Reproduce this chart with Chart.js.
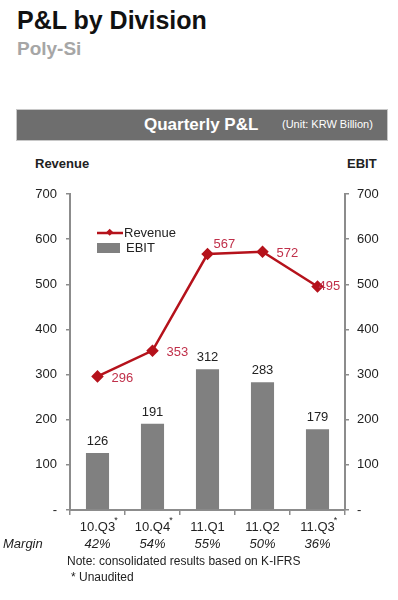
<!DOCTYPE html>
<html>
<head>
<meta charset="utf-8">
<script src="https://cdn.jsdelivr.net/npm/chart.js@4.4.0/dist/chart.umd.min.js"></script>
<style>
    body { margin: 0; background: #fff; font-family: "Liberation Sans", Arial, sans-serif; }
    #page { position: relative; width: 398px; height: 600px; overflow: hidden; }
    .abs { position: absolute; white-space: nowrap; }
    #title { left: 17px; top: 6px; font-size: 25px; font-weight: bold; color: #111; }
    #sub { left: 17px; top: 38px; font-size: 19px; font-weight: bold; color: #a6a6a6; }
    #bar { left: 16px; top: 109px; width: 372px; height: 32px; background: #6e6e6e; border: 1px solid #c8c8c8; box-sizing: border-box; }
    #barTitle { left: 144px; top: 115px; font-size: 17px; font-weight: bold; color: #fff; }
    #barUnit { left: 282px; top: 118px; font-size: 11px; color: #fff; }
    .axTitle { top: 156px; font-size: 13px; font-weight: bold; color: #222; }
    #chartBox { position: absolute; left: 0; top: 150px; width: 398px; height: 405px; }
    #legend { left: 97px; top: 225px; font-size: 13px; color: #222; }
    .lgRow { display: flex; align-items: center; height: 15px; }
    #note { left: 67px; top: 554px; font-size: 12px; color: #222; }
    #note2 { left: 71px; top: 570px; font-size: 12px; color: #222; }
</style>
</head>
<body>
<div id="page">
    <div class="abs" id="title">P&amp;L by Division</div>
    <div class="abs" id="sub">Poly-Si</div>
    <div class="abs" id="bar"></div>
    <div class="abs" id="barTitle">Quarterly P&amp;L</div>
    <div class="abs" id="barUnit">(Unit: KRW Billion)</div>
    <div class="abs axTitle" style="left:35px">Revenue</div>
    <div class="abs axTitle" style="left:347px">EBIT</div>
    <div id="chartBox"><canvas id="pl" width="398" height="405"></canvas></div>
    <div class="abs" id="legend"></div>
    <div class="abs" id="note">Note: consolidated results based on K-IFRS</div>
    <div class="abs" id="note2">* Unaudited</div>
</div>
<script>
// data
var categories = ["10.Q3", "10.Q4", "11.Q1", "11.Q2", "11.Q3"];
var unaudited = [true, true, false, false, true];
var margins = ["42%", "54%", "55%", "50%", "36%"];
var revenue = [296, 353, 567, 572, 495];
var ebit = [126, 191, 312, 283, 179];

var red = "#b5121b";
var redText = "#c0304a";
var grey = "#808080";
var axisGrey = "#8c8c8c";

// where each revenue label sits relative to its point
var revLabelPos = ["right", "right", "above", "right", "tight"];

var valueLabels = {
    id: "valueLabels",
    afterDatasetsDraw: function (chart) {
        var ctx = chart.ctx;
        ctx.save();
        ctx.font = "13px 'Liberation Sans', Arial";
        // EBIT on bars
        var bars = chart.getDatasetMeta(1);
        ctx.fillStyle = "#222";
        ctx.textAlign = "center";
        ctx.textBaseline = "bottom";
        bars.data.forEach(function (el, i) {
            ctx.fillText(ebit[i], el.x, el.y - 5);
        });
        // revenue next to points
        var line = chart.getDatasetMeta(0);
        ctx.fillStyle = redText;
        ctx.textAlign = "left";
        ctx.textBaseline = "middle";
        line.data.forEach(function (el, i) {
            var p = revLabelPos[i];
            if (p == "above") {
                ctx.fillText(revenue[i], el.x + 6, el.y - 10);
            } else if (p == "tight") {
                ctx.fillText(revenue[i], el.x + 1, el.y);
            } else {
                ctx.fillText(revenue[i], el.x + 14, el.y + 2);
            }
        });
        ctx.restore();
    },
    afterDraw: function (chart) {
        var ctx = chart.ctx;
        var x = chart.scales.x;
        ctx.save();
        // superscript asterisks for unaudited quarters
        ctx.font = "13px 'Liberation Sans', Arial";
        var wids = categories.map(function (c) { return ctx.measureText(c).width; });
        ctx.font = "9px 'Liberation Sans', Arial";
        ctx.fillStyle = "#222";
        ctx.textAlign = "left";
        ctx.textBaseline = "middle";
        categories.forEach(function (c, i) {
            if (unaudited[i]) {
                ctx.fillText("*", x.getPixelForValue(i) + wids[i] / 2 - 1, 371);
            }
        });
        // margin row
        ctx.font = "italic 13px 'Liberation Sans', Arial";
        ctx.textAlign = "center";
        margins.forEach(function (m, i) {
            ctx.fillText(m, x.getPixelForValue(i), 394);
        });
        ctx.textAlign = "left";
        ctx.fillText("Margin", 3, 394);
        ctx.restore();
    }
};

var chart = new Chart("pl", {
    type: "bar",
    data: {
        labels: categories,
        datasets: [{
            type: "line",
            label: "Revenue",
            data: revenue,
            yAxisID: "yL",
            borderColor: red,
            backgroundColor: red,
            borderWidth: 2.5,
            pointStyle: "rectRot",
            pointRadius: 4.5,
            pointBackgroundColor: red,
            pointBorderColor: red,
            tension: 0,
            order: 0
        }, {
            type: "bar",
            label: "EBIT",
            data: ebit,
            yAxisID: "yR",
            backgroundColor: grey,
            categoryPercentage: 1,
            barPercentage: 0.42,
            order: 1
        }]
    },
    options: {
        responsive: false,
        animation: false,
        layout: { padding: { top: 44, left: 0, right: 0, bottom: 0 } },
        plugins: {
            legend: { display: false },
            tooltip: { enabled: false }
        },
        scales: {
            x: {
                offset: true,
                grid: { offset: true, drawOnChartArea: false, drawTicks: true, tickLength: 5, color: axisGrey, lineWidth: 1.5 },
                border: { color: axisGrey, width: 2 },
                ticks: { color: "#222", font: { size: 13, family: "'Liberation Sans', Arial" }, padding: 5 },
                afterFit: function (s) { s.height = 45; }
            },
            yL: {
                position: "left",
                min: 0, max: 700,
                grid: { drawOnChartArea: false, drawTicks: true, tickLength: 4, color: axisGrey, lineWidth: 1.5 },
                border: { color: axisGrey, width: 2 },
                ticks: {
                    stepSize: 100, color: "#222", padding: 9,
                    font: { size: 13, family: "'Liberation Sans', Arial" },
                    callback: function (v) { return v == 0 ? "-" : v; }
                },
                afterFit: function (s) { s.width = 70; }
            },
            yR: {
                position: "right",
                min: 0, max: 700,
                grid: { drawOnChartArea: false, drawTicks: true, tickLength: 4, color: axisGrey, lineWidth: 1.5 },
                border: { color: axisGrey, width: 2 },
                ticks: {
                    stepSize: 100, color: "#222", padding: 8,
                    font: { size: 13, family: "'Liberation Sans', Arial" },
                    callback: function (v) { return v == 0 ? "-" : v; }
                },
                afterFit: function (s) { s.width = 53; }
            }
        }
    },
    plugins: [valueLabels]
});

// legend built from the datasets
var lg = "";
chart.data.datasets.forEach(function (ds) {
    if (ds.type == "line") {
        lg += "<div class='lgRow'><svg width='26' height='10'><line x1='0' y1='5' x2='26' y2='5' stroke='" + ds.borderColor +
            "' stroke-width='2.5'/><rect x='9.5' y='1.5' width='5' height='5' fill='" + ds.borderColor +
            "' transform='rotate(45 12 5)'/></svg><span style='margin-left:1px'>" + ds.label + "</span></div>";
    } else {
        lg += "<div class='lgRow'><div style='width:23px;height:10px;background:" + ds.backgroundColor +
            "'></div><span style='margin-left:6px'>" + ds.label + "</span></div>";
    }
});
document.getElementById("legend").innerHTML = lg;
</script>
</body>
</html>
